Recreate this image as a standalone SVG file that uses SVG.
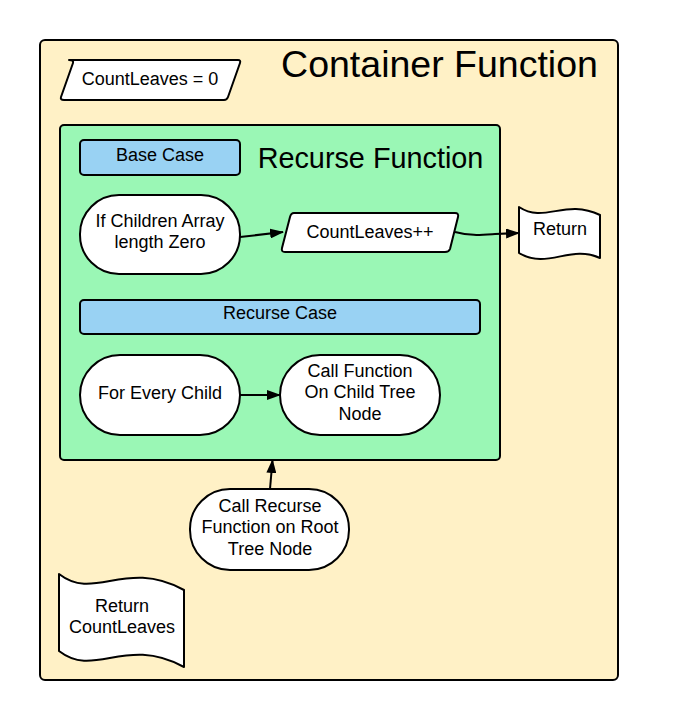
<svg xmlns="http://www.w3.org/2000/svg" width="680" height="720" viewBox="0 0 680 720">
<style>
  .s{stroke:#000;stroke-width:2;stroke-linejoin:round}
  .w{fill:#fff}
  .t{font-family:"Liberation Sans",Arial,sans-serif;font-size:18px;fill:#000;text-anchor:middle}
  .c{fill:none;stroke:#000;stroke-width:2}
</style>
<defs>
  <marker id="ah" markerWidth="14" markerHeight="10" refX="13" refY="5" orient="auto" markerUnits="userSpaceOnUse">
    <path d="M0,0 L14,5 L0,10 Z" fill="#000"/>
  </marker>
</defs>
<rect width="680" height="720" fill="#fff"/>
<g id="container">
  <rect class="s" x="40" y="40" width="578" height="640" rx="5" fill="#FFF1C6"/>
  <text x="439.5" y="77" font-family="Liberation Sans,Arial,sans-serif" font-size="37.5" text-anchor="middle">Container Function</text>
</g>
<g id="countleaves0">
  <path class="s w" d="M69,60 L238,60 Q241,60 240,63 L228,97 Q227,100 224,100 L64,100 Q60,100 61,97 L73,63 Q74,60 69,60 Z"/>
  <text class="t" x="150" y="85">CountLeaves = 0</text>
</g>
<g id="recurse">
  <rect class="s" x="60" y="125" width="440" height="335" rx="4" fill="#9AF7B5"/>
  <text x="370.5" y="168" font-family="Liberation Sans,Arial,sans-serif" font-size="28.8" text-anchor="middle">Recurse Function</text>
</g>
<g id="basecase">
  <rect class="s" x="80" y="140" width="160" height="35" rx="4" fill="#99D2F3"/>
  <text class="t" x="160" y="161">Base Case</text>
</g>
<g id="ifchildren">
  <rect class="s w" x="80" y="195" width="160" height="79" rx="39"/>
  <text class="t" x="160" y="227">If Children Array</text>
  <text class="t" x="160" y="248">length Zero</text>
</g>
<g id="countleavespp">
  <path class="s w" d="M294,213 L455,213 Q459,213 458,217 L450,249 Q449,252 445,252 L285,252 Q281,252 282,248 L290,217 Q291,213 294,213 Z"/>
  <text class="t" x="370" y="238">CountLeaves++</text>
</g>
<g id="return">
  <path class="s w" d="M519,207 C545,224 565,198 600,215 L600,258 C570,244 548,270 519,253 Z"/>
  <text class="t" x="560" y="235">Return</text>
</g>
<g id="recursecase">
  <rect class="s" x="80" y="300" width="400" height="34" rx="4" fill="#99D2F3"/>
  <text class="t" x="280" y="319">Recurse Case</text>
</g>
<g id="foreverychild">
  <rect class="s w" x="80" y="355" width="160" height="80" rx="40"/>
  <text class="t" x="160" y="399">For Every Child</text>
</g>
<g id="callfunction">
  <rect class="s w" x="280" y="355" width="160" height="80" rx="40"/>
  <text class="t" x="360" y="377">Call Function</text>
  <text class="t" x="360" y="398">On Child Tree</text>
  <text class="t" x="360" y="420">Node</text>
</g>
<g id="callrecurse">
  <rect class="s w" x="190" y="489" width="159" height="81" rx="40"/>
  <text class="t" x="270" y="512">Call Recurse</text>
  <text class="t" x="270" y="533">Function on Root</text>
  <text class="t" x="270" y="555">Tree Node</text>
</g>
<g id="returncountleaves">
  <path class="s w" d="M59,574 C95,602 125,558 184,590 L184,667 C125,635 95,679 59,651 Z"/>
  <text class="t" x="122" y="612">Return</text>
  <text class="t" x="122" y="633">CountLeaves</text>
</g>
<g id="connectors">
  <path class="c" d="M240,237 L283,232" marker-end="url(#ah)"/>
  <path class="c" d="M455,232 C470,236 480,235 495,234 L519,233" marker-end="url(#ah)"/>
  <path class="c" d="M240,395 L280,395" marker-end="url(#ah)"/>
  <path class="c" d="M270,489 L272.5,460" marker-end="url(#ah)"/>
</g>
</svg>
